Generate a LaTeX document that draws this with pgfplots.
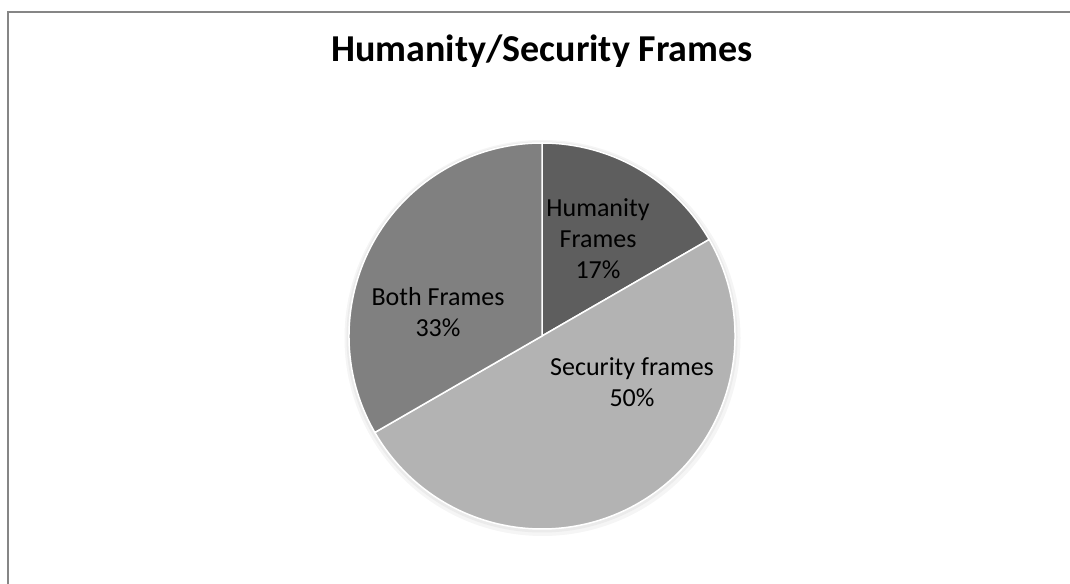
\documentclass[border=0pt]{standalone}
\usepackage{pgfplots}
\pgfplotsset{compat=1.18}
\usepackage{pgfplotstable}
\usepackage{fontspec}
\setmainfont{Carlito}
\definecolor{humc}{RGB}{94,94,94}
\definecolor{secc}{RGB}{179,179,179}
\definecolor{bothc}{RGB}{128,128,128}
\definecolor{framec}{RGB}{134,134,134}
\pgfplotstableread{
label value
Humanity 16.67
Security 50
Both 33.33
}\piedata
\begin{document}
\begin{tikzpicture}
\pgfplotstablegetelem{0}{value}\of\piedata \let\vA\pgfplotsretval
\pgfplotstablegetelem{1}{value}\of\piedata \let\vB\pgfplotsretval
\pgfplotstablegetelem{2}{value}\of\piedata \let\vC\pgfplotsretval
\pgfmathsetmacro\aA{90-3.6*\vA}
\pgfmathsetmacro\aB{\aA-3.6*\vB}
\pgfmathsetmacro\aC{\aB-3.6*\vC}
\begin{axis}[
  width=1070bp, height=584bp, scale only axis,
  xmin=0, xmax=1070, ymin=0, ymax=584,
  hide axis, clip=false,
]
% soft shadow
\fill[black!4] (axis cs:542.5,246) circle[radius=198bp];
\fill[black!8] (axis cs:542,247) circle[radius=195.5bp];
\fill[humc, draw=white, line width=1.5bp] (axis cs:542,248) -- ++(90:193bp) arc[start angle=90, end angle=\aA, radius=193bp] -- cycle;
\fill[secc, draw=white, line width=1.5bp] (axis cs:542,248) -- ++(\aA:193bp) arc[start angle=\aA, end angle=\aB, radius=193bp] -- cycle;
\fill[bothc, draw=white, line width=1.5bp] (axis cs:542,248) -- ++(\aB:193bp) arc[start angle=\aB, end angle=\aC, radius=193bp] -- cycle;
\node[font=\fontsize{38bp}{45bp}\selectfont\bfseries] at (axis cs:542,533) {Humanity/Security Frames};
\node[align=center, font=\fontsize{26bp}{31bp}\selectfont] at (axis cs:598,345) {Humanity\\Frames\\17\%};
\node[align=center, font=\fontsize{26bp}{31bp}\selectfont] at (axis cs:632,202) {Security frames\\50\%};
\node[align=center, font=\fontsize{26bp}{31bp}\selectfont] at (axis cs:438,272) {Both Frames\\33\%};
\draw[framec, line width=1.8bp] (axis cs:8,-10) -- (axis cs:8,572) -- (axis cs:1080,572);
\end{axis}
\pgfresetboundingbox
\path[use as bounding box] (0,0) rectangle (1070bp,584bp);
\end{tikzpicture}
\end{document}
